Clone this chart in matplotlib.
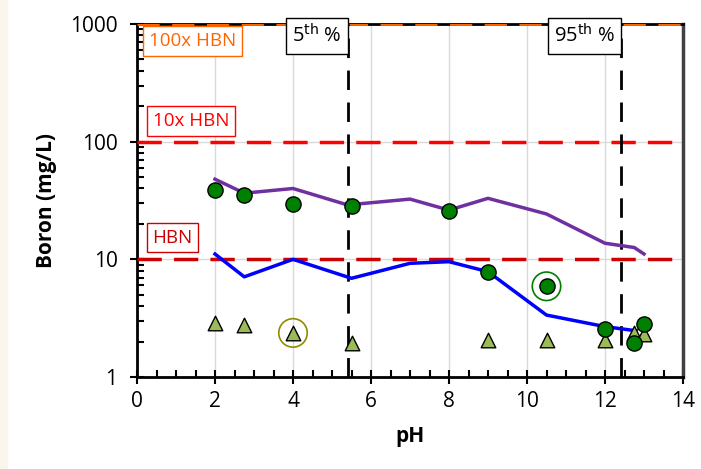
import numpy as np
import matplotlib.pyplot as plt
from matplotlib.ticker import MultipleLocator, LogLocator, NullFormatter, FixedLocator
from matplotlib.patches import Rectangle

plt.rcParams['font.family'] = ['Open Sans', 'DejaVu Sans']

# measured boron concentrations
ph_meas = [2, 2.75, 4, 5.5, 8, 9, 10.5, 12, 12.75, 13]
b_meas = [39, 35.5, 29.5, 28.5, 25.7, 7.8, 5.9, 2.55, 1.95, 2.8]

# leached / low-level series
ph_low = [2, 2.75, 4, 5.5, 9, 10.5, 12, 12.75, 13]
b_low = [2.9, 2.75, 2.37, 1.95, 2.07, 2.05, 2.07, 2.35, 2.3]

# model curves
ph_upper = [2, 2.75, 4, 5.4, 7, 8, 9, 10.5, 12, 12.75, 13]
b_upper = [48, 36.5, 40, 29, 32.5, 26.2, 33, 24.3, 13.7, 12.6, 11.1]
ph_lower = [2, 2.75, 4, 5.5, 7, 8, 9, 10.5, 12, 12.8]
b_lower = [11.1, 7.1, 10, 6.9, 9.25, 9.55, 7.85, 3.36, 2.68, 2.47]

# health-based numbers and pH percentiles
hbn = 10
ph_p5 = 5.4
ph_p95 = 12.4

fig = plt.figure(figsize=(7.01, 4.69), dpi=100)
fig.patches.append(Rectangle((0, 0), 7/701, 1, transform=fig.transFigure,
                             color='#faf6ee', zorder=0))
ax = fig.add_axes([137/701, 1 - 377/469, 546/701, 353/469])

ax.set_yscale('log')
ax.set_xlim(0, 14)
ax.set_ylim(1, 1000)

ax.grid(True, which='major', color='#d9d9d9', lw=1, zorder=0)

ax.axhline(100 * hbn, color='#ff6600', lw=2, dashes=(8, 4.5), zorder=3)
ax.axhline(10 * hbn, color='#ff0000', lw=2.5, dashes=(7, 3.5), zorder=3)
ax.axhline(hbn, color='#cc0000', lw=2.5, dashes=(7, 3.5), zorder=3)

ax.axvline(ph_p5, color='black', lw=2, dashes=(7, 4.5), zorder=3)
ax.axvline(ph_p95, color='black', lw=2, dashes=(7, 4.5), zorder=3)

ax.plot(ph_upper, b_upper, color='#7030a0', lw=2.5, zorder=4)
ax.plot(ph_lower, b_lower, color='#0000ff', lw=2.5, zorder=4)

ax.scatter(ph_low, b_low, marker='^', s=110, color='#9bbb59',
           edgecolors='black', linewidths=1, zorder=5)
ax.scatter(ph_meas, b_meas, marker='o', s=120, color='#008000',
           edgecolors='black', linewidths=1, zorder=6)

# highlighted samples
ax.scatter([ph_low[2]], [b_low[2]], marker='o', s=420, facecolors='none',
           edgecolors='#8c8c00', linewidths=1.2, zorder=5)
ax.scatter([ph_meas[6]], [b_meas[6]], marker='o', s=420, facecolors='none',
           edgecolors='#008000', linewidths=1.2, zorder=6)

box = dict(boxstyle='square,pad=0.3', fc='white', lw=1)
ax.text(0.3, 716, '100x HBN', color='#ff6600', fontsize=13.5, va='center',
        bbox=dict(box, ec='#ff6600'), zorder=7)
ax.text(0.4, 150, '10x HBN', color='#ff0000', fontsize=13.5, va='center',
        bbox=dict(box, ec='#ff0000'), zorder=7)
ax.text(0.4, 15.3, 'HBN', color='#cc0000', fontsize=13.5, va='center',
        bbox=dict(box, ec='#cc0000'), zorder=7)
ax.text(ph_p5 - 0.15, 790, r'5$^{\mathrm{th}}$ %', color='black', fontsize=14.5,
        ha='right', va='center', bbox=dict(box, ec='black'), zorder=7)
ax.text(ph_p95 - 0.15, 790, r'95$^{\mathrm{th}}$ %', color='black', fontsize=14.5,
        ha='right', va='center', bbox=dict(box, ec='black'), zorder=7)

ax.xaxis.set_major_locator(MultipleLocator(2))
ax.xaxis.set_minor_locator(MultipleLocator(0.5))
ax.yaxis.set_major_locator(FixedLocator([1, 10, 100, 1000]))
ax.yaxis.set_minor_locator(LogLocator(base=10, subs=np.arange(2, 10)))
ax.yaxis.set_minor_formatter(NullFormatter())
ax.set_yticklabels(['1', '10', '100', '1000'])

ax.tick_params(which='major', direction='inout', length=10, width=1.5,
               labelsize=15)
ax.tick_params(axis='x', which='major', pad=5)
ax.tick_params(axis='y', which='major', pad=9)
ax.tick_params(which='minor', direction='in', length=5, width=1.5)

for s in ['left', 'bottom', 'top']:
    ax.spines[s].set_linewidth(2)
    ax.spines[s].set_color('black')
ax.spines['right'].set_linewidth(2.5)
ax.spines['right'].set_color('#404040')

ax.set_xlabel('pH', fontsize=15, fontweight='bold', labelpad=10)
ax.set_ylabel('Boron (mg/L)', fontsize=15, fontweight='bold', labelpad=9)

fig.savefig('out.png', dpi=100)
